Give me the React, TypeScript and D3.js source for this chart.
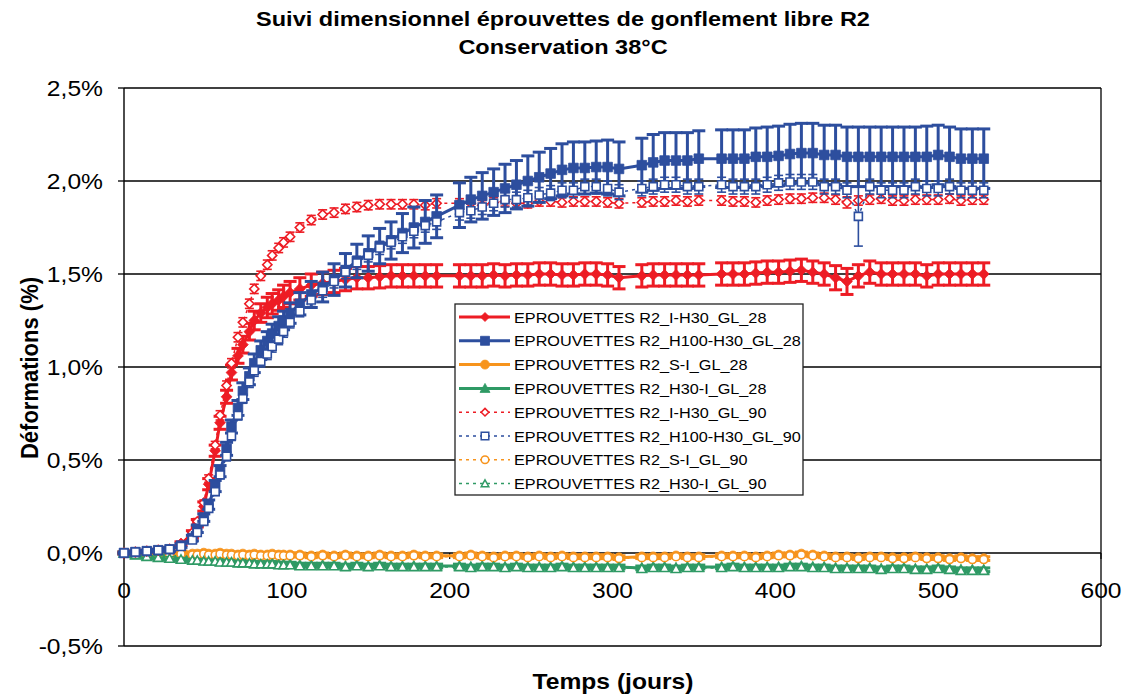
import React from 'react';
import * as d3 from 'd3';

// ---------------- DATA ----------------
const days = [
  0, 7, 14, 21, 28, 35, 42, 45, 49, 52,
  56, 59, 63, 66, 70, 73, 77, 80, 84, 88,
  91, 95, 98, 102, 108, 115, 122, 129, 136, 143,
  150, 157, 164, 171, 178, 185, 192, 206, 213, 220,
  227, 234, 241, 248, 255, 262, 269, 276, 283, 290,
  297, 304, 318, 325, 332, 339, 346, 353, 367, 374,
  381, 388, 395, 402, 409, 416, 423, 430, 437, 444,
  451, 458, 465, 472, 479, 486, 493, 500, 507, 514,
  521, 528,
];

const seriesNames = [
  'EPROUVETTES R2_I-H30_GL_28',
  'EPROUVETTES R2_H100-H30_GL_28',
  'EPROUVETTES R2_S-I_GL_28',
  'EPROUVETTES R2_H30-I_GL_28',
  'EPROUVETTES R2_I-H30_GL_90',
  'EPROUVETTES R2_H100-H30_GL_90',
  'EPROUVETTES R2_S-I_GL_90',
  'EPROUVETTES R2_H30-I_GL_90',
];

const iH30_28 = [
  0, 0.005, 0.01, 0.015, 0.02, 0.05, 0.10, 0.16, 0.25, 0.37,
  0.55, 0.70, 0.84, 0.97, 1.06, 1.12, 1.19, 1.25, 1.29, 1.32,
  1.34, 1.36, 1.38, 1.40, 1.42, 1.44, 1.45, 1.46, 1.47, 1.48,
  1.48, 1.485, 1.49, 1.49, 1.49, 1.49, 1.49, 1.49, 1.49, 1.49,
  1.495, 1.49, 1.495, 1.495, 1.50, 1.50, 1.495, 1.495, 1.50, 1.50,
  1.495, 1.48, 1.49, 1.495, 1.495, 1.495, 1.495, 1.495, 1.50, 1.50,
  1.50, 1.505, 1.51, 1.51, 1.515, 1.52, 1.51, 1.50, 1.48, 1.46,
  1.49, 1.51, 1.50, 1.50, 1.50, 1.50, 1.49, 1.50, 1.50, 1.50,
  1.50, 1.50,
];
const iH30_28Err = [
  0.005, 0.005, 0.005, 0.005, 0.01, 0.01, 0.02, 0.02, 0.025, 0.03,
  0.03, 0.035, 0.035, 0.04, 0.04, 0.045, 0.045, 0.05, 0.05, 0.055,
  0.055, 0.055, 0.06, 0.06, 0.06, 0.06, 0.06, 0.06, 0.06, 0.06,
  0.06, 0.06, 0.06, 0.06, 0.06, 0.06, 0.06, 0.06, 0.06, 0.06,
  0.06, 0.06, 0.06, 0.06, 0.06, 0.06, 0.06, 0.06, 0.06, 0.06,
  0.06, 0.06, 0.06, 0.06, 0.06, 0.06, 0.06, 0.06, 0.06, 0.06,
  0.06, 0.06, 0.06, 0.06, 0.06, 0.06, 0.06, 0.06, 0.065, 0.07,
  0.06, 0.06, 0.06, 0.06, 0.06, 0.06, 0.06, 0.06, 0.06, 0.06,
  0.06, 0.06,
];

const h100H30_28 = [
  0, 0.005, 0.01, 0.015, 0.02, 0.04, 0.08, 0.13, 0.19, 0.26,
  0.36, 0.44, 0.56, 0.68, 0.78, 0.87, 0.95, 1.02, 1.09, 1.14,
  1.18, 1.22, 1.25, 1.29, 1.34, 1.39, 1.43, 1.47, 1.52, 1.57,
  1.61, 1.65, 1.68, 1.72, 1.75, 1.78, 1.81, 1.87, 1.90, 1.92,
  1.94, 1.96, 1.98, 2.00, 2.02, 2.04, 2.06, 2.07, 2.07, 2.075,
  2.075, 2.065, 2.085, 2.10, 2.11, 2.11, 2.11, 2.12, 2.12, 2.12,
  2.12, 2.13, 2.13, 2.135, 2.145, 2.15, 2.15, 2.14, 2.14, 2.13,
  2.13, 2.13, 2.13, 2.13, 2.13, 2.13, 2.13, 2.14, 2.13, 2.12,
  2.12, 2.12,
];
const h100H30_28Err = [
  0.005, 0.005, 0.005, 0.005, 0.01, 0.01, 0.015, 0.02, 0.02, 0.025,
  0.03, 0.03, 0.035, 0.035, 0.04, 0.045, 0.045, 0.05, 0.05, 0.05,
  0.05, 0.05, 0.05, 0.055, 0.06, 0.07, 0.08, 0.085, 0.09, 0.09,
  0.095, 0.095, 0.1, 0.105, 0.11, 0.115, 0.115, 0.12, 0.12, 0.125,
  0.125, 0.13, 0.13, 0.135, 0.135, 0.135, 0.14, 0.14, 0.14, 0.14,
  0.145, 0.145, 0.145, 0.15, 0.15, 0.15, 0.15, 0.15, 0.155, 0.155,
  0.155, 0.155, 0.16, 0.16, 0.16, 0.16, 0.16, 0.16, 0.16, 0.16,
  0.16, 0.16, 0.16, 0.16, 0.16, 0.16, 0.165, 0.16, 0.16, 0.16,
  0.16, 0.16,
];

const sI_28 = [
  0, 0.0, -0.005, 0.0, -0.005, 0.0, -0.005, -0.005, 0.0, -0.005,
  -0.005, 0.0, -0.005, -0.005, -0.01, -0.005, -0.01, -0.005, -0.01, -0.01,
  -0.005, -0.01, -0.01, -0.01, -0.01, -0.015, -0.01, -0.015, -0.01, -0.015,
  -0.015, -0.01, -0.015, -0.015, -0.01, -0.015, -0.015, -0.015, -0.01, -0.015,
  -0.02, -0.015, -0.015, -0.02, -0.015, -0.02, -0.015, -0.02, -0.02, -0.02,
  -0.02, -0.025, -0.02, -0.02, -0.02, -0.015, -0.02, -0.02, -0.015, -0.015,
  -0.015, -0.02, -0.015, -0.01, -0.01, -0.005, -0.01, -0.015, -0.02, -0.02,
  -0.025, -0.02, -0.02, -0.025, -0.025, -0.02, -0.025, -0.025, -0.03, -0.025,
  -0.03, -0.03,
];

const h30I_28 = [
  0, -0.01, -0.015, -0.02, -0.025, -0.03, -0.035, -0.035, -0.04, -0.04,
  -0.04, -0.045, -0.045, -0.045, -0.05, -0.05, -0.05, -0.055, -0.055, -0.055,
  -0.055, -0.06, -0.06, -0.06, -0.065, -0.065, -0.065, -0.065, -0.07, -0.065,
  -0.07, -0.065, -0.07, -0.07, -0.07, -0.07, -0.07, -0.07, -0.075, -0.07,
  -0.07, -0.075, -0.07, -0.075, -0.075, -0.075, -0.07, -0.075, -0.075, -0.075,
  -0.075, -0.075, -0.08, -0.075, -0.075, -0.08, -0.075, -0.075, -0.075, -0.07,
  -0.075, -0.075, -0.075, -0.075, -0.07, -0.07, -0.075, -0.075, -0.08, -0.08,
  -0.08, -0.08, -0.085, -0.08, -0.08, -0.085, -0.085, -0.08, -0.085, -0.09,
  -0.09, -0.09,
];

const iH30_90 = [
  0, 0.005, 0.01, 0.015, 0.02, 0.05, 0.11, 0.17, 0.27, 0.40,
  0.58, 0.74, 0.90, 1.02, 1.16, 1.24, 1.34, 1.42, 1.49, 1.55,
  1.60, 1.64, 1.67, 1.70, 1.75, 1.79, 1.82, 1.83, 1.85, 1.86,
  1.87, 1.875, 1.875, 1.875, 1.875, 1.87, 1.88, 1.88, 1.88, 1.87,
  1.885, 1.89, 1.88, 1.88, 1.89, 1.89, 1.885, 1.89, 1.89, 1.89,
  1.885, 1.88, 1.885, 1.89, 1.89, 1.895, 1.89, 1.895, 1.895, 1.89,
  1.89, 1.885, 1.895, 1.90, 1.905, 1.905, 1.91, 1.91, 1.90, 1.885,
  1.895, 1.90, 1.905, 1.895, 1.895, 1.90, 1.90, 1.90, 1.905, 1.895,
  1.90, 1.90,
];
const iH30_90Err = [
  0.005, 0.005, 0.005, 0.005, 0.005, 0.01, 0.01, 0.015, 0.015, 0.02,
  0.02, 0.025, 0.025, 0.025, 0.025, 0.025, 0.025, 0.025, 0.025, 0.025,
  0.025, 0.025, 0.025, 0.025, 0.025, 0.025, 0.025, 0.025, 0.025, 0.025,
  0.025, 0.025, 0.025, 0.025, 0.025, 0.025, 0.025, 0.025, 0.025, 0.025,
  0.025, 0.025, 0.025, 0.025, 0.025, 0.025, 0.025, 0.025, 0.025, 0.025,
  0.025, 0.025, 0.025, 0.025, 0.025, 0.025, 0.025, 0.025, 0.025, 0.025,
  0.025, 0.025, 0.025, 0.025, 0.025, 0.025, 0.025, 0.025, 0.025, 0.03,
  0.025, 0.025, 0.025, 0.025, 0.025, 0.025, 0.025, 0.025, 0.025, 0.025,
  0.025, 0.025,
];

const h100H30_90 = [
  0, 0.005, 0.01, 0.015, 0.02, 0.035, 0.07, 0.11, 0.17, 0.24,
  0.33, 0.42, 0.52, 0.63, 0.74, 0.83, 0.92, 0.98, 1.03, 1.07,
  1.11, 1.15, 1.19, 1.24, 1.30, 1.36, 1.41, 1.46, 1.51, 1.56,
  1.60, 1.64, 1.67, 1.70, 1.73, 1.76, 1.78, 1.83, 1.84, 1.86,
  1.88, 1.90, 1.90, 1.91, 1.925, 1.935, 1.95, 1.95, 1.97, 1.97,
  1.96, 1.94, 1.96, 1.97, 1.98, 1.98, 1.97, 1.97, 1.98, 1.97,
  1.97, 1.97, 1.98, 1.99, 1.995, 1.995, 1.995, 1.97, 1.97, 1.95,
  1.81, 1.97, 1.95, 1.95, 1.95, 1.97, 1.96, 1.96, 1.97, 1.95,
  1.95, 1.95,
];
const h100H30_90Err = [
  0.005, 0.005, 0.005, 0.005, 0.005, 0.01, 0.01, 0.015, 0.015, 0.02,
  0.02, 0.02, 0.025, 0.025, 0.025, 0.025, 0.03, 0.03, 0.03, 0.03,
  0.03, 0.03, 0.03, 0.03, 0.03, 0.035, 0.035, 0.035, 0.035, 0.035,
  0.035, 0.035, 0.035, 0.035, 0.035, 0.035, 0.04, 0.04, 0.04, 0.04,
  0.04, 0.04, 0.04, 0.04, 0.04, 0.04, 0.04, 0.04, 0.04, 0.04,
  0.04, 0.04, 0.04, 0.04, 0.04, 0.04, 0.04, 0.04, 0.04, 0.04,
  0.04, 0.04, 0.04, 0.04, 0.04, 0.04, 0.04, 0.04, 0.04, 0.04,
  0.16, 0.04, 0.04, 0.04, 0.04, 0.04, 0.04, 0.04, 0.04, 0.04,
  0.04, 0.04,
];

const sI_90 = [
  0, -0.005, -0.005, -0.005, -0.01, -0.005, -0.01, -0.01, -0.005, -0.01,
  -0.01, -0.005, -0.01, -0.01, -0.015, -0.01, -0.015, -0.01, -0.015, -0.015,
  -0.01, -0.015, -0.015, -0.015, -0.015, -0.02, -0.015, -0.02, -0.015, -0.02,
  -0.02, -0.015, -0.02, -0.02, -0.015, -0.02, -0.02, -0.02, -0.015, -0.02,
  -0.025, -0.02, -0.02, -0.025, -0.02, -0.025, -0.02, -0.025, -0.025, -0.025,
  -0.025, -0.03, -0.025, -0.025, -0.025, -0.02, -0.025, -0.025, -0.02, -0.02,
  -0.02, -0.025, -0.02, -0.015, -0.015, -0.01, -0.015, -0.02, -0.025, -0.025,
  -0.03, -0.025, -0.025, -0.03, -0.03, -0.025, -0.03, -0.03, -0.035, -0.03,
  -0.035, -0.035,
];

const h30I_90 = [
  0, -0.01, -0.02, -0.025, -0.03, -0.035, -0.04, -0.04, -0.045, -0.045,
  -0.045, -0.05, -0.05, -0.05, -0.055, -0.055, -0.055, -0.06, -0.06, -0.06,
  -0.06, -0.065, -0.065, -0.065, -0.07, -0.07, -0.07, -0.07, -0.075, -0.07,
  -0.075, -0.07, -0.075, -0.075, -0.075, -0.075, -0.075, -0.075, -0.08, -0.075,
  -0.075, -0.08, -0.075, -0.08, -0.08, -0.08, -0.075, -0.08, -0.08, -0.08,
  -0.08, -0.08, -0.085, -0.08, -0.08, -0.085, -0.08, -0.08, -0.08, -0.075,
  -0.08, -0.08, -0.08, -0.08, -0.075, -0.075, -0.08, -0.08, -0.085, -0.085,
  -0.085, -0.085, -0.09, -0.085, -0.085, -0.09, -0.09, -0.085, -0.09, -0.095,
  -0.095, -0.095,
];

const smallErr = [
  0.005, 0.01, 0.01, 0.01, 0.01, 0.01, 0.01, 0.01, 0.01, 0.01,
  0.01, 0.01, 0.01, 0.01, 0.01, 0.01, 0.01, 0.01, 0.01, 0.01,
  0.01, 0.01, 0.01, 0.01, 0.01, 0.01, 0.01, 0.01, 0.01, 0.01,
  0.01, 0.01, 0.01, 0.01, 0.01, 0.01, 0.01, 0.01, 0.01, 0.01,
  0.01, 0.01, 0.01, 0.01, 0.01, 0.01, 0.01, 0.01, 0.01, 0.01,
  0.01, 0.01, 0.01, 0.01, 0.01, 0.01, 0.01, 0.01, 0.01, 0.01,
  0.01, 0.01, 0.01, 0.01, 0.01, 0.01, 0.01, 0.01, 0.01, 0.01,
  0.01, 0.01, 0.01, 0.01, 0.01, 0.01, 0.01, 0.01, 0.01, 0.01,
  0.01, 0.01,
];

const yTicks = [-0.5, 0, 0.5, 1.0, 1.5, 2.0, 2.5];
const yTickLabels = ['-0,5%', '0,0%', '0,5%', '1,0%', '1,5%', '2,0%', '2,5%'];
const xTicks = [0, 100, 200, 300, 400, 500, 600];
const titleLines = ['Suivi dimensionnel éprouvettes de gonflement libre R2', 'Conservation 38°C'];
const xTitle = 'Temps (jours)';
const yTitle = 'Déformations (%)';

// ---------------- STYLE ----------------
const W = 1126;
const H = 698;
const PL = 124;
const PR = 1101;
const PT = 88;
const PB = 646;
const SX = 1.12;
const FONT = "'Liberation Sans', Arial, Helvetica, sans-serif";
const RED = '#ED1C24';
const BLUE = '#2D4E9E';
const ORANGE = '#F7941D';
const GREEN = '#2F9A65';

type Marker = 'diamond' | 'square' | 'circle' | 'triangle';

function markerPath(type: Marker, r: number): string {
  switch (type) {
    case 'diamond':
      return `M0,${-r}L${r},0L0,${r}L${-r},0Z`;
    case 'square':
      return `M${-r},${-r}H${r}V${r}H${-r}Z`;
    case 'triangle':
      return `M0,${-r}L${r},${r * 0.8}L${-r},${r * 0.8}Z`;
    default:
      return `M${r},0A${r},${r} 0 1,1 ${-r},0A${r},${r} 0 1,1 ${r},0Z`;
  }
}

function Txt(props: {
  x: number; y: number; size: number; weight?: string; anchor?: string;
  rotate?: number; children: React.ReactNode;
}) {
  const { x, y, size, weight = 'normal', anchor = 'start', rotate = 0, children } = props;
  return (
    <text
      transform={`translate(${x},${y}) scale(${SX},1)${rotate ? ` rotate(${rotate})` : ''}`}
      fontFamily={FONT}
      fontSize={size}
      fontWeight={weight}
      textAnchor={anchor}
      fill="#000"
    >
      {children}
    </text>
  );
}

export default function App() {
  const x = d3.scaleLinear().domain([0, 600]).range([PL, PR]);
  const y = d3.scaleLinear().domain([-0.5, 2.5]).range([PB, PT]);

  const series = [
    { name: seriesNames[0], values: iH30_28, err: iH30_28Err, color: RED, dashed: false, marker: 'diamond' as Marker },
    { name: seriesNames[1], values: h100H30_28, err: h100H30_28Err, color: BLUE, dashed: false, marker: 'square' as Marker },
    { name: seriesNames[2], values: sI_28, err: smallErr, color: ORANGE, dashed: false, marker: 'circle' as Marker },
    { name: seriesNames[3], values: h30I_28, err: smallErr, color: GREEN, dashed: false, marker: 'triangle' as Marker },
    { name: seriesNames[4], values: iH30_90, err: iH30_90Err, color: RED, dashed: true, marker: 'diamond' as Marker },
    { name: seriesNames[5], values: h100H30_90, err: h100H30_90Err, color: BLUE, dashed: true, marker: 'square' as Marker },
    { name: seriesNames[6], values: sI_90, err: smallErr, color: ORANGE, dashed: true, marker: 'circle' as Marker },
    { name: seriesNames[7], values: h30I_90, err: smallErr, color: GREEN, dashed: true, marker: 'triangle' as Marker },
  ];

  const line = d3
    .line<number>()
    .x((_, i) => x(days[i]))
    .y((d) => y(d));

  const markerR = (m: Marker, dashed: boolean) => {
    if (dashed) return m === 'diamond' ? 4.6 : m === 'triangle' ? 4.6 : 4.0;
    if (m === 'diamond') return 5.4;
    if (m === 'square') return 4.8;
    if (m === 'triangle') return 5.6;
    return 4.8;
  };

  const drawOrder = [2, 3, 6, 7, 0, 4, 1, 5];

  const legendX = 455;
  const legendY = 304;
  const legendW = 348;
  const legendH = 191;
  const rowH = 23.8;

  return (
    <svg
      width={W}
      height={H}
      viewBox={`0 0 ${W} ${H}`}
      style={{ position: 'absolute', left: 0, top: 0, background: '#fff' }}
    >
      <rect x={0} y={0} width={W} height={H} fill="#fff" />

      {/* Title */}
      <Txt x={563} y={26} size={21} weight="bold" anchor="middle">{titleLines[0]}</Txt>
      <Txt x={563} y={54} size={21} weight="bold" anchor="middle">{titleLines[1]}</Txt>

      {/* Gridlines & frame */}
      {yTicks.filter((t) => t !== 0 && t !== -0.5).map((t) => (
        <line key={`g${t}`} x1={PL} x2={PR} y1={y(t)} y2={y(t)} stroke="#000" strokeWidth={1.4} />
      ))}
      <line x1={PR} x2={PR} y1={PT} y2={PB} stroke="#000" strokeWidth={1.3} />
      <line x1={PL} x2={PR} y1={PB} y2={PB} stroke="#000" strokeWidth={1.3} />

      {/* Y axis */}
      <line x1={PL} x2={PL} y1={PT} y2={PB} stroke="#000" strokeWidth={1.4} />
      {yTicks.map((t, i) => (
        <g key={`yt${t}`}>
          <line x1={PL - 6} x2={PL} y1={y(t)} y2={y(t)} stroke="#000" strokeWidth={1.3} />
          <Txt x={103} y={y(t) + 8} size={22} anchor="end">{yTickLabels[i]}</Txt>
        </g>
      ))}

      {/* X axis at 0 */}
      <line x1={PL} x2={PR} y1={y(0)} y2={y(0)} stroke="#000" strokeWidth={1.4} />
      {xTicks.map((t) => (
        <g key={`xt${t}`}>
          <line x1={x(t)} x2={x(t)} y1={y(0)} y2={y(0) + 6} stroke="#000" strokeWidth={1.2} />
          <Txt x={x(t)} y={598} size={22} anchor="middle">{String(t)}</Txt>
        </g>
      ))}

      {/* Axis titles */}
      <Txt x={613} y={689} size={22} weight="bold" anchor="middle">{xTitle}</Txt>
      <Txt x={38} y={368} size={22} weight="bold" anchor="middle" rotate={-90}>{yTitle}</Txt>

      {/* Series */}
      {drawOrder.map((si) => {
        const s = series[si];
        const r = markerR(s.marker, s.dashed);
        const capW = s.dashed ? 4.5 : 6.5;
        const ebW = s.dashed ? 1.6 : 3;
        return (
          <g key={s.name}>
            <path
              d={line(s.values) || ''}
              fill="none"
              stroke={s.color}
              strokeWidth={s.dashed ? 1.5 : 3}
              strokeDasharray={s.dashed ? '3,4' : undefined}
            />
            {s.values.map((v, i) => {
              const cx = x(days[i]);
              const y1 = y(v + s.err[i]);
              const y2 = y(v - s.err[i]);
              return (
                <g key={i} stroke={s.color} strokeWidth={ebW}>
                  <line x1={cx} x2={cx} y1={y1} y2={y2} />
                  <line x1={cx - capW} x2={cx + capW} y1={y1} y2={y1} />
                  <line x1={cx - capW} x2={cx + capW} y1={y2} y2={y2} />
                </g>
              );
            })}
            {s.values.map((v, i) => (
              <path
                key={`m${i}`}
                d={markerPath(s.marker, r)}
                transform={`translate(${x(days[i])},${y(v)})`}
                fill={s.dashed ? '#fff' : s.color}
                stroke={s.color}
                strokeWidth={s.dashed ? 1.6 : 0.8}
              />
            ))}
          </g>
        );
      })}

      {/* Legend */}
      <rect x={legendX} y={legendY} width={legendW} height={legendH} fill="#fff" stroke="#222" strokeWidth={1.3} />
      {series.map((s, i) => {
        const cy = legendY + 13 + i * rowH;
        const r = s.dashed ? 3.8 : s.marker === 'triangle' ? 5 : 4.5;
        return (
          <g key={`lg${i}`}>
            <line
              x1={459}
              x2={510}
              y1={cy}
              y2={cy}
              stroke={s.color}
              strokeWidth={s.dashed ? 1.5 : 3}
              strokeDasharray={s.dashed ? '3,4' : undefined}
            />
            <path
              d={markerPath(s.marker, r)}
              transform={`translate(485,${cy})`}
              fill={s.dashed ? '#fff' : s.color}
              stroke={s.color}
              strokeWidth={s.dashed ? 1.5 : 0.8}
            />
            <Txt x={514} y={cy + 5.5} size={14.5}>{s.name}</Txt>
          </g>
        );
      })}
    </svg>
  );
}
